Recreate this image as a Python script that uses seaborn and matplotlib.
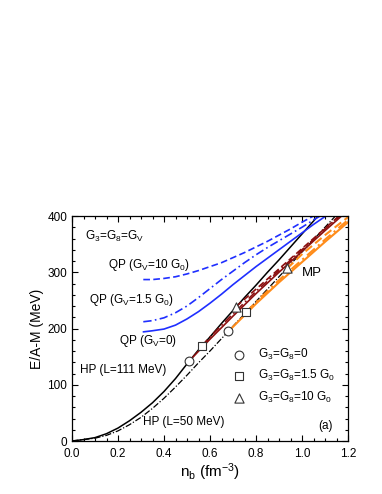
import numpy as np
import pandas as pd
import seaborn as sns
import matplotlib
matplotlib.use('Agg')
import matplotlib.pyplot as plt
from matplotlib.ticker import MultipleLocator

# hadronic phase curves
hp_x = [0.0, 0.05, 0.1, 0.15, 0.2, 0.25, 0.3, 0.35, 0.4, 0.45, 0.5, 0.55, 0.6,
        0.65, 0.7, 0.75, 0.8, 0.85, 0.9, 0.95, 1.0, 1.05, 1.1, 1.15, 1.2]
hp111_y = [0, 2.5, 6, 13, 23, 36, 51, 68, 88, 111, 137, 162, 185,
           209, 232, 255, 277, 300, 322, 345, 368, 391, 414, 437, 460]
hp50_y = [0, 2.5, 5, 10, 18, 29, 42, 58, 76, 96, 117, 139, 160,
          182, 204, 226, 248, 270, 292, 314, 336, 358, 380, 402, 424]

# quark phase curves
qp_x = [0.31, 0.35, 0.4, 0.45, 0.5, 0.55, 0.6, 0.65, 0.7, 0.75, 0.8, 0.85,
        0.9, 0.95, 1.0, 1.05, 1.1, 1.15]
qp0_y = [194, 196, 199, 206, 217, 230, 245, 261, 278, 294, 310, 325,
         340, 355, 370, 385, 399, 413]
qp15_y = [212, 214, 219, 228, 240, 255, 271, 287, 302, 317, 331, 344,
          356, 368, 380, 393, 405, 417]
qp10_y = [287, 287, 289, 292, 297, 303, 310, 317, 326, 335, 345, 355,
          366, 377, 389, 400, 411, 422]

# mixed phase curves (L=111 -> dark red, L=50 -> orange)
mp111_0_x = [0.509, 0.6, 0.7, 0.8, 0.9, 1.0, 1.1, 1.2]
mp111_0_y = [142, 181, 222, 262, 300, 337, 374, 410]
mp111_15_x = [0.565, 0.6, 0.7, 0.8, 0.9, 1.0, 1.1, 1.2]
mp111_15_y = [169, 185, 226, 266, 303, 340, 377, 414]
mp111_10_x = [0.714, 0.8, 0.9, 1.0, 1.1, 1.2]
mp111_10_y = [239, 270, 306, 342, 378, 414]
mp50_0_x = [0.68, 0.7, 0.8, 0.9, 1.0, 1.1, 1.2]
mp50_0_y = [195, 203, 244, 282, 318, 354, 389]
mp50_15_x = [0.757, 0.8, 0.9, 1.0, 1.1, 1.2]
mp50_15_y = [229, 247, 286, 322, 358, 393]
mp50_10_x = [0.936, 1.0, 1.1, 1.2]
mp50_10_y = [307, 332, 366, 398]

# transition points
circ_x, circ_y = [0.509, 0.68], [142, 195]
sq_x, sq_y = [0.565, 0.757], [169, 229]
tri_x, tri_y = [0.714, 0.936], [239, 307]

sns.set_style('ticks')
plt.rcParams['font.family'] = ['Liberation Sans', 'DejaVu Sans']
plt.rcParams['mathtext.fontset'] = 'custom'
plt.rcParams['mathtext.rm'] = 'Liberation Sans'
plt.rcParams['mathtext.default'] = 'regular'
for k in ['text.color', 'axes.labelcolor', 'xtick.color', 'ytick.color', 'axes.edgecolor']:
    plt.rcParams[k] = 'black'

fig = plt.figure(figsize=(3.82, 4.94), dpi=100)
ax = fig.add_axes([72/382, 53/494, 276/382, 225/494])

blue = '#1f2fff'
dred = '#8b1010'
orange = '#ff8c1a'
dash = (4, 2)
dashdot = (5, 2, 1, 2)

sns.lineplot(x=hp_x, y=hp111_y, color='black', lw=1.1, ax=ax)
sns.lineplot(x=hp_x, y=hp50_y, color='black', lw=0.9, ax=ax).lines[-1].set_dashes((5, 1.5, 1, 1.5))

sns.lineplot(x=qp_x, y=qp0_y, color=blue, lw=1.2, ax=ax)
sns.lineplot(x=qp_x, y=qp15_y, color=blue, lw=1.2, ax=ax).lines[-1].set_dashes(dashdot)
sns.lineplot(x=qp_x, y=qp10_y, color=blue, lw=1.2, ax=ax).lines[-1].set_dashes(dash)

sns.lineplot(x=mp111_0_x, y=mp111_0_y, color=dred, lw=1.2, ax=ax)
sns.lineplot(x=mp111_15_x, y=mp111_15_y, color=dred, lw=1.2, ax=ax).lines[-1].set_dashes(dashdot)
sns.lineplot(x=mp111_10_x, y=mp111_10_y, color=dred, lw=1.2, ax=ax).lines[-1].set_dashes(dash)
sns.lineplot(x=mp50_0_x, y=mp50_0_y, color=orange, lw=1.5, ax=ax)
sns.lineplot(x=mp50_15_x, y=mp50_15_y, color=orange, lw=1.5, ax=ax).lines[-1].set_dashes(dashdot)
sns.lineplot(x=mp50_10_x, y=mp50_10_y, color=orange, lw=1.5, ax=ax).lines[-1].set_dashes(dash)

mk = dict(facecolor='white', edgecolor='#333333', linewidth=0.8, zorder=5, ax=ax)
sns.scatterplot(x=circ_x, y=circ_y, marker='o', s=40, label='G$_3$=G$_8$=0', **mk)
sns.scatterplot(x=sq_x, y=sq_y, marker='s', s=36, label='G$_3$=G$_8$=1.5 G$_0$', **mk)
sns.scatterplot(x=tri_x, y=tri_y, marker='^', s=44, label='G$_3$=G$_8$=10 G$_0$', **mk)

ax.legend(loc='upper left', bbox_to_anchor=(0.545, 0.44), frameon=False,
          fontsize=8.5, handletextpad=0.6, labelspacing=0.55, borderaxespad=0)

fs = 8.5
ax.text(0.057, 363, 'G$_3$=G$_8$=G$_V$', fontsize=fs, va='center')
ax.text(0.157, 313, 'QP (G$_V$=10 G$_0$)', fontsize=fs, va='center')
ax.text(0.074, 251, 'QP (G$_V$=1.5 G$_0$)', fontsize=fs, va='center')
ax.text(0.204, 178, 'QP (G$_V$=0)', fontsize=fs, va='center')
ax.text(0.035, 126, 'HP (L=111 MeV)', fontsize=fs, va='center')
ax.text(0.309, 34, 'HP (L=50 MeV)', fontsize=fs, va='center')
ax.text(1.0, 299, 'MP', fontsize=9.5, va='center')
ax.text(1.07, 27, '(a)', fontsize=fs, va='center')

ax.set_xlim(0, 1.2)
ax.set_ylim(0, 400)
ax.xaxis.set_major_locator(MultipleLocator(0.2))
ax.xaxis.set_minor_locator(MultipleLocator(0.05))
ax.yaxis.set_major_locator(MultipleLocator(100))
ax.yaxis.set_minor_locator(MultipleLocator(20))
ax.set_xticklabels([f'{v:.1f}' for v in ax.get_xticks()])
ax.tick_params(which='both', direction='in', top=True, right=True, labelsize=8.5, width=0.8)
ax.tick_params(which='major', length=4)
ax.tick_params(which='minor', length=2)
ax.tick_params(axis='x', pad=5)
for s in ax.spines.values():
    s.set_linewidth(0.9)

ax.set_xlabel('n$_b$ (fm$^{-3}$)', fontsize=11, labelpad=1)
ax.set_ylabel('E/A-M (MeV)', fontsize=10, labelpad=2)

fig.savefig('out.png', dpi=100)
